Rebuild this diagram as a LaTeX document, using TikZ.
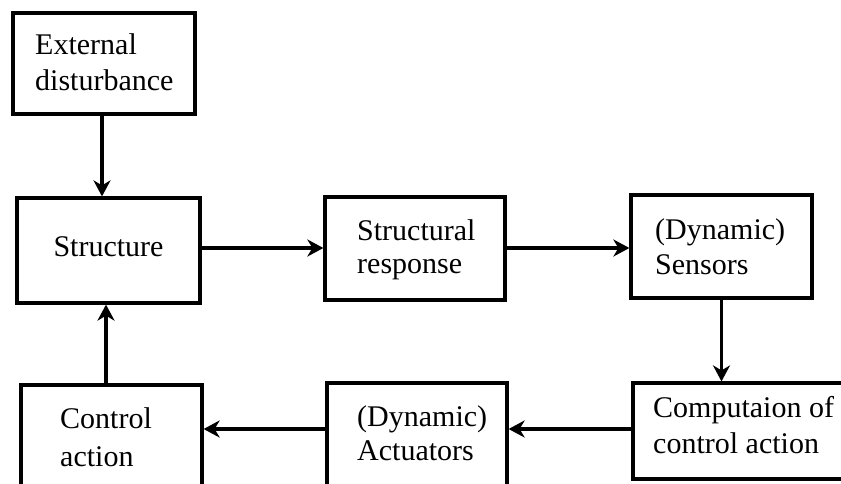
\documentclass[tikz,border=0pt]{standalone}
\usepackage{fontspec}
\setmainfont{Liberation Serif}
\usetikzlibrary{arrows.meta}
\begin{document}
\begin{tikzpicture}[x=1pt,y=-1pt,
  box/.style={draw=black,line width=3.2pt,rectangle,inner sep=0pt,fill=none},
  txt/.style={inner sep=0pt,align=left,font=\fontsize{30pt}{36pt}\selectfont},
  arr/.style={line width=3.2pt,-{Stealth[length=16pt,width=17pt,inset=5pt]}},
  ln/.style={line width=3.2pt}]
\useasboundingbox (0,0) rectangle (841,483);
\clip (0,0) rectangle (841,483);
% boxes
\node[box,minimum width=182pt,minimum height=101pt] (b1) at (104,63.5) {};
\node[box,minimum width=183pt,minimum height=105pt] (b2) at (108.5,250.5) {};
\node[box,minimum width=180pt,minimum height=103pt] (b3) at (415,248.5) {};
\node[box,minimum width=181pt,minimum height=103pt] (b4) at (721.5,246.5) {};
\node[box,minimum width=181pt,minimum height=110pt] (b5) at (111.5,440) {};
\node[box,minimum width=180pt,minimum height=110pt] (b6) at (417,438) {};
\node[box,minimum width=230pt,minimum height=96pt] (b7) at (748,431) {};
% texts
\node[txt,anchor=west] (t1) at (35,62.5) {External\\disturbance};
\node[txt] (t2) at (108.5,247) {Structure};
\node[txt,anchor=west,font=\fontsize{30pt}{33pt}\selectfont] (t3) at (357,250) {Structural\\response};
\node[txt,anchor=west,font=\fontsize{30pt}{35pt}\selectfont] (t4) at (655,247) {(Dynamic)\\Sensors};
\node[txt,anchor=west,font=\fontsize{30pt}{38pt}\selectfont] (t5) at (60,437) {Control\\action};
\node[txt,anchor=west,font=\fontsize{30pt}{34pt}\selectfont] (t6) at (357,433) {(Dynamic)\\Actuators};
\node[txt,anchor=west] (t7) at (653,425) {Computaion of\\control action};
% guide coordinates
\coordinate (c1) at (102,0);
\coordinate (c5) at (106,0);
\coordinate (r2) at (0,248);
\coordinate (r3) at (0,429);
% connectors
\draw[arr] (b1.south -| c1) -- (b2.north -| c1);
\draw[arr] (b2.east |- r2) -- (b3.west |- r2);
\draw[arr] (b3.east |- r2) -- (b4.west |- r2);
\draw[arr] (b4.south) -- (b4.south |- b7.north);
\draw[arr] (b7.west |- r3) -- (b6.east |- r3);
\draw[arr] (b6.west |- r3) -- (b5.east |- r3);
\draw[arr] (b5.north -| c5) -- (b2.south -| c5);
\end{tikzpicture}
\end{document}
